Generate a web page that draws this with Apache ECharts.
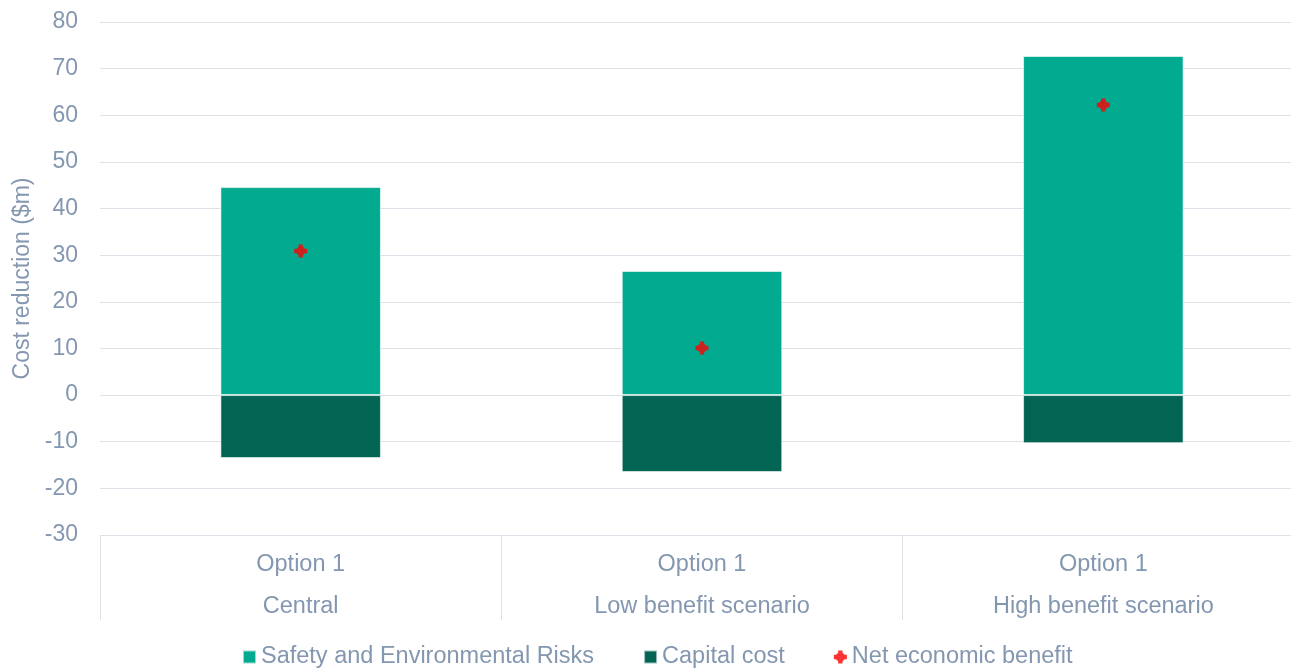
<!DOCTYPE html>
<html>
<head>
<meta charset="utf-8">
<script src="https://cdn.jsdelivr.net/npm/echarts@6/dist/echarts.min.js"></script>
<style>
html,body{margin:0;padding:0;background:#fff;}
#chart{width:1291px;height:668px;}
</style>
</head>
<body>
<div id="chart"></div>
<script>
const categories = ["Option 1\nCentral", "Option 1\nLow benefit scenario", "Option 1\nHigh benefit scenario"];
const safetyRisks = [44.6, 26.6, 72.7];
const capitalCost = [-13.5, -16.5, -10.3];
const netBenefit = [30.9, 10.1, 62.2];
const yTicks = { min: -30, max: 80, interval: 10 };

const textColor = '#8497b0';
const gridColor = '#dde2e8';
const font = "'Liberation Sans', Arial, sans-serif";
const markerPath = 'path://M4,0 L8,0 L8,2 L10,4 L12,4 L12,8 L10,8 L8,10 L8,12 L4,12 L4,10 L2,8 L0,8 L0,4 L2,4 L4,2 Z';

const chart = echarts.init(document.getElementById('chart'));
chart.setOption({
  animation: false,
  textStyle: { fontFamily: font },
  grid: { left: 100, right: -13, top: 22, bottom: 133, containLabel: false, outerBoundsMode: 'none' },
  legend: {
    top: 640,
    left: 237,
    itemWidth: 13,
    itemHeight: 13,
    itemGap: 49,
    textStyle: { color: textColor, fontSize: 23.5, fontFamily: font },
    data: [
      { name: 'Safety and Environmental Risks', icon: 'rect' },
      { name: 'Capital cost', icon: 'rect' },
      { name: 'Net economic benefit', icon: markerPath }
    ]
  },
  xAxis: {
    type: 'category',
    data: categories,
    axisLine: { show: true, onZero: false, lineStyle: { color: gridColor, width: 1 } },
    axisTick: { show: true, length: 85, lineStyle: { color: gridColor, width: 1 } },
    axisLabel: { color: textColor, fontSize: 23.5, lineHeight: 42, margin: 9, fontFamily: font }
  },
  yAxis: {
    type: 'value',
    min: yTicks.min,
    max: yTicks.max,
    interval: yTicks.interval,
    name: 'Cost reduction ($m)',
    nameLocation: 'middle',
    nameRotate: 90,
    nameGap: 66,
    nameTextStyle: { color: textColor, fontSize: 23, fontFamily: font },
    axisLine: { show: false },
    axisTick: { show: false },
    axisLabel: { color: textColor, fontSize: 23, margin: 22, fontFamily: font },
    splitLine: { lineStyle: { color: gridColor, width: 1 } }
  },
  series: [
    {
      name: 'Safety and Environmental Risks',
      type: 'bar',
      stack: 'total',
      barWidth: '40%',
      data: safetyRisks,
      itemStyle: { color: '#02aa90', borderColor: 'rgba(255,255,255,0.6)', borderWidth: 1 }
    },
    {
      name: 'Capital cost',
      type: 'bar',
      stack: 'total',
      barWidth: '40%',
      data: capitalCost,
      itemStyle: { color: '#026554', borderColor: 'rgba(255,255,255,0.6)', borderWidth: 1 }
    },
    {
      name: 'Net economic benefit',
      type: 'scatter',
      data: netBenefit,
      symbol: markerPath,
      symbolSize: 13,
      itemStyle: { color: '#ff0000' },
      z: 5
    }
  ]
});
</script>
</body>
</html>
